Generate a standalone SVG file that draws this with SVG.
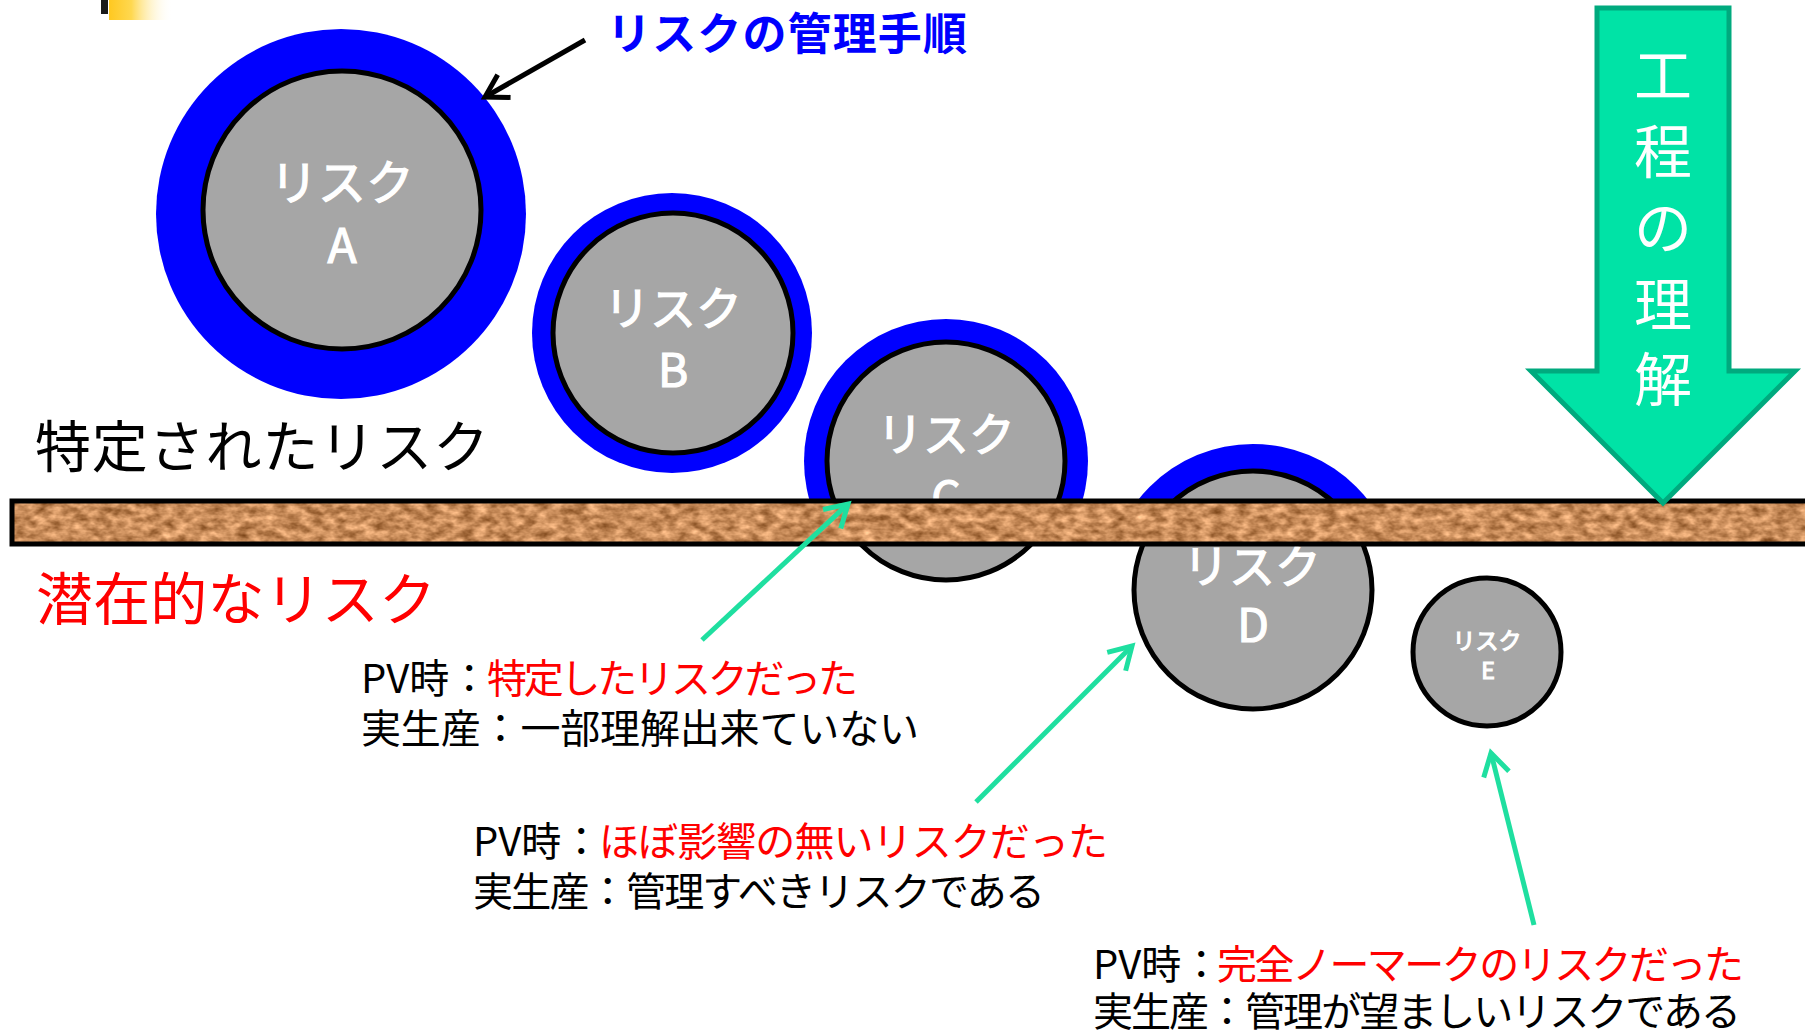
<svg xmlns="http://www.w3.org/2000/svg" width="1805" height="1035" viewBox="0 0 1805 1035">
<defs>
<style>
.ring{fill:#0000FF}
.core{fill:#A6A6A6;stroke:#000;stroke-width:5}
.ct{fill:#fff;stroke:#fff;stroke-width:1.2;font-family:"Noto Sans CJK JP","Noto Sans CJK SC",sans-serif;text-anchor:middle}
.lbl{font-family:"Noto Sans CJK JP","Noto Sans CJK SC",sans-serif;font-size:40px;fill:#000}
.red{fill:#FF0000}
.big{font-family:"Noto Sans CJK JP","Noto Sans CJK SC",sans-serif}
.garrow{stroke:#1FDFA0;stroke-width:5;fill:none}
.karrow{stroke:#000;stroke-width:5;fill:none}
.vt{fill:#fff;font-family:"Noto Sans CJK JP","Noto Sans CJK SC",sans-serif;font-size:58px;text-anchor:middle}
</style>
<linearGradient id="yg" x1="0" y1="0" x2="1" y2="0">
<stop offset="0" stop-color="#FFC820"/>
<stop offset="0.35" stop-color="#FFD850"/>
<stop offset="1" stop-color="#FFFFFF" stop-opacity="0"/>
</linearGradient>
<clipPath id="above"><rect x="0" y="0" width="1805" height="501"/></clipPath>
<filter id="cork" x="0" y="0" width="100%" height="100%" filterUnits="objectBoundingBox" color-interpolation-filters="sRGB">
<feTurbulence type="fractalNoise" baseFrequency="0.08 0.13" numOctaves="3" seed="7" result="n"/>
<feColorMatrix in="n" type="matrix" values="0.7 0 0 0 0.434  0.65 0 0 0 0.224  0.6 0 0 0 0.053  0 0 0 0 1" result="c"/>
<feComposite in="c" in2="SourceGraphic" operator="in"/>
</filter>
<marker id="gh" markerUnits="userSpaceOnUse" markerWidth="60" markerHeight="60" viewBox="-30 -30 60 60" refX="0" refY="0" orient="auto" overflow="visible">
<path d="M -22 -13 L 0 0 L -22 13" fill="none" stroke="#1FDFA0" stroke-width="5" stroke-linejoin="miter"/>
</marker>
<marker id="kh" markerUnits="userSpaceOnUse" markerWidth="60" markerHeight="60" viewBox="-30 -30 60 60" refX="0" refY="0" orient="auto" overflow="visible">
<path d="M -22 -13 L 0 0 L -22 13" fill="none" stroke="#000" stroke-width="5" stroke-linejoin="miter"/>
</marker>
</defs>
<rect width="1805" height="1035" fill="#fff"/>

<g id="corner">
<rect x="101" y="0" width="7" height="14" fill="#1a1a1a"/>
<rect x="109" y="0" width="64" height="20" fill="url(#yg)"/>
</g>

<g id="riskA">
<circle class="ring" cx="341" cy="214" r="185"/>
<circle class="core" cx="342" cy="210" r="139"/>
<text class="ct" x="342" y="200" font-size="48">リスク</text>
<text class="ct" x="342" y="263" font-size="48">A</text>
</g>

<g id="riskB">
<circle class="ring" cx="672" cy="333" r="140"/>
<circle class="core" cx="673" cy="333" r="120"/>
<text class="ct" x="673" y="325" font-size="46">リスク</text>
<text class="ct" x="673" y="387" font-size="46">B</text>
</g>

<g id="riskC">
<circle class="ring" cx="946" cy="461" r="142" clip-path="url(#above)"/>
<circle class="core" cx="946" cy="461" r="119"/>
<text class="ct" x="946" y="451" font-size="46">リスク</text>
<text class="ct" x="946" y="515" font-size="46">C</text>
</g>

<g id="riskD">
<circle class="ring" cx="1253" cy="590" r="146" clip-path="url(#above)"/>
<circle class="core" cx="1253" cy="590" r="119"/>
<text class="ct" x="1252" y="583" font-size="46">リスク</text>
<text class="ct" x="1253" y="642" font-size="46">D</text>
</g>

<g id="riskE">
<circle class="core" cx="1487" cy="652" r="74"/>
<text class="ct" x="1487" y="649" font-size="23" stroke-width="0.6">リスク</text>
<text class="ct" x="1488" y="679" font-size="23" stroke-width="0.6">E</text>
</g>

<g id="ground">
<rect x="12" y="501" width="1800" height="43" fill="#C08850" filter="url(#cork)"/>
<rect x="12" y="501" width="1800" height="43" fill="none" stroke="#000" stroke-width="5"/>
</g>

<g id="title">
<text class="big" x="607" y="50" font-size="44" font-weight="bold" fill="#0000FF" textLength="360">リスクの管理手順</text>
</g>

<g id="identified">
<text class="big" x="35" y="467" font-size="56" fill="#000" textLength="454">特定されたリスク</text>
</g>

<g id="latent">
<text class="big" x="36" y="620" font-size="57" fill="#FF0000" textLength="400">潜在的なリスク</text>
</g>

<g id="process">
<polygon points="1597,8 1729,8 1729,371 1795,371 1663,503 1531,371 1597,371" fill="#00E3A6" stroke="#00AA7E" stroke-width="5"/>
<text class="vt" x="1663" y="97">工</text>
<text class="vt" x="1663" y="173">程</text>
<text class="vt" x="1663" y="249">の</text>
<text class="vt" x="1663" y="326">理</text>
<text class="vt" x="1663" y="401">解</text>
</g>

<g id="noteC">
<text class="lbl" x="361" y="693">PV時：</text>
<text class="lbl red" x="487" y="693" textLength="371">特定したリスクだった</text>
<text class="lbl" x="361" y="743" textLength="558">実生産：一部理解出来ていない</text>
</g>

<g id="noteD">
<text class="lbl" x="473" y="856">PV時：</text>
<text class="lbl red" x="599" y="856" textLength="509">ほぼ影響の無いリスクだった</text>
<text class="lbl" x="473" y="906" textLength="572">実生産：管理すべきリスクである</text>
</g>

<g id="noteE">
<text class="lbl" x="1093" y="979">PV時：</text>
<text class="lbl red" x="1217" y="979" textLength="527">完全ノーマークのリスクだった</text>
<text class="lbl" x="1093" y="1026" textLength="648">実生産：管理が望ましいリスクである</text>
</g>

<g id="connectors">
<line class="karrow" x1="585" y1="40" x2="485" y2="97" marker-end="url(#kh)"/>
<line class="garrow" x1="702" y1="640" x2="848" y2="504" marker-end="url(#gh)"/>
<line class="garrow" x1="976" y1="802" x2="1132" y2="646" marker-end="url(#gh)"/>
<line class="garrow" x1="1534" y1="925" x2="1491" y2="753" marker-end="url(#gh)"/>
</g>
</svg>
